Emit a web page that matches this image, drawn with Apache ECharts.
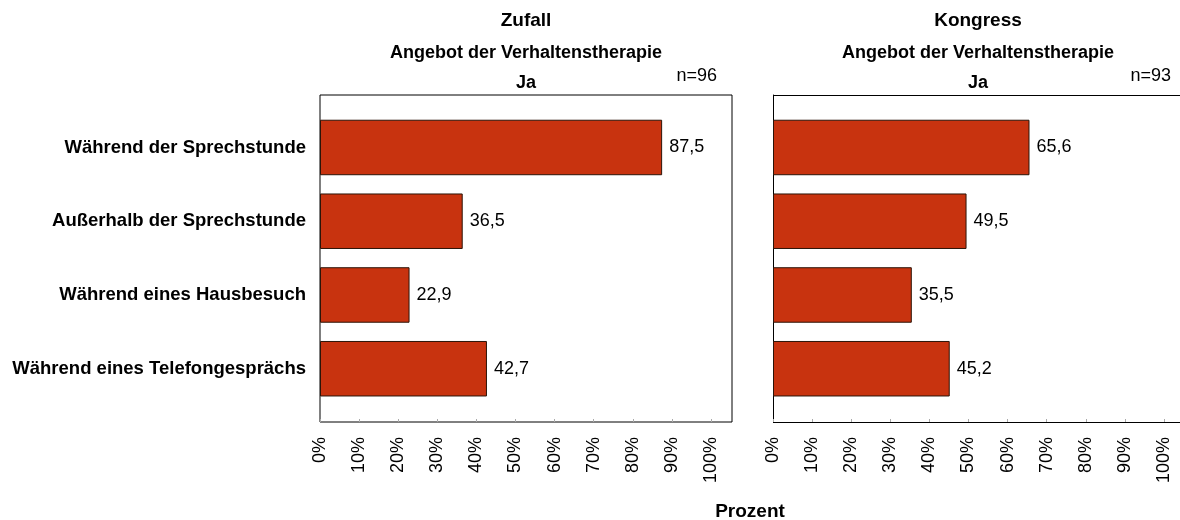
<!DOCTYPE html>
<html>
<head>
<meta charset="utf-8">
<script src="https://cdn.jsdelivr.net/npm/echarts@6/dist/echarts.min.js"></script>
<style>
html,body{margin:0;padding:0;background:#fff;}
#c{width:1180px;height:520px;}
</style>
</head>
<body>
<div id="c"></div>
<script>
const categories = ['Während der Sprechstunde', 'Außerhalb der Sprechstunde', 'Während eines Hausbesuch', 'Während eines Telefongesprächs'];
const zufall = [87.5, 36.5, 22.9, 42.7];
const kongress = [65.6, 49.5, 35.5, 45.2];
const tickValues = [0, 10, 20, 30, 40, 50, 60, 70, 80, 90, 100];
const panelTitles = ['Zufall', 'Kongress'];
const subTitle = 'Angebot der Verhaltenstherapie';
const groupLabel = 'Ja';
const nLabels = ['n=96', 'n=93'];
const axisTitle = 'Prozent';

const FONT = '"Liberation Sans", Arial, Helvetica, sans-serif';
const BAR = '#c8330f';
const PX_PER_UNIT = 3.91;

const panels = [
  {left: 320, width: 412, center: 526, nRight: 717, data: zufall, showCats: true, fullBox: true},
  {left: 773, width: 407, center: 978, nRight: 1171, data: kongress, showCats: false, fullBox: false}
];
const frameTop = 95, frameH = 327;
const barTop = 110.6, barH = 295;

const grid = [], xAxis = [], yAxis = [], series = [], graphic = [];
panels.forEach((p, i) => {
  const xmax = p.width / PX_PER_UNIT;
  grid.push({left: p.left, top: frameTop, width: p.width, height: frameH, show: p.fullBox, borderColor: '#000', borderWidth: 1, backgroundColor: 'transparent'});
  grid.push({left: p.left, top: barTop, width: p.width, height: barH});
  const fi = i * 2, bi = i * 2 + 1;
  xAxis.push({
    gridIndex: fi, type: 'value', min: 0, max: xmax, interval: 10,
    axisLine: {show: false},
    axisTick: {show: true, inside: true, length: 3, lineStyle: {color: '#aaa'}},
    splitLine: {show: false},
    axisLabel: {
      rotate: 90, margin: 15, fontSize: 18, color: '#000', fontFamily: FONT,
      showMaxLabel: false,
      formatter: v => tickValues.indexOf(Math.round(v)) >= 0 && Math.abs(v - Math.round(v)) < 1e-6 ? Math.round(v) + '%' : ''
    }
  });
  yAxis.push({
    gridIndex: fi, type: 'value', min: 0, max: 1, interval: 1,
    axisLine: {show: !p.fullBox, lineStyle: {color: '#000', width: 1}},
    axisTick: {show: false}, axisLabel: {show: false},
    splitLine: {show: !p.fullBox, lineStyle: {color: '#000', width: 1}}
  });
  xAxis.push({gridIndex: bi, type: 'value', min: 0, max: xmax, show: false});
  yAxis.push({
    gridIndex: bi, type: 'category', data: categories, inverse: true,
    axisLine: {show: false},
    axisTick: {show: true, inside: true, length: 3, alignWithLabel: true, lineStyle: {color: '#aaa'}},
    axisLabel: {show: p.showCats, margin: 14, fontSize: 18.5, fontWeight: 'bold', color: '#000', fontFamily: FONT}
  });
  series.push({
    type: 'bar', xAxisIndex: bi, yAxisIndex: bi, data: p.data,
    barWidth: 55.5,
    itemStyle: {color: BAR, borderColor: '#2b1408', borderWidth: 1},
    label: {
      show: true, position: 'right', distance: 7, fontSize: 18, color: '#000', fontFamily: FONT,
      formatter: d => d.value.toFixed(1).replace('.', ',')
    },
    silent: true
  });
  graphic.push({type: 'text', x: p.center, y: 21, style: {text: panelTitles[i], fontSize: 19, fontWeight: 'bold', fontFamily: FONT, fill: '#000', textAlign: 'center', textVerticalAlign: 'middle'}});
  graphic.push({type: 'text', x: p.center, y: 53, style: {text: subTitle, fontSize: 18, fontWeight: 'bold', fontFamily: FONT, fill: '#000', textAlign: 'center', textVerticalAlign: 'middle'}});
  graphic.push({type: 'text', x: p.center, y: 83.5, style: {text: groupLabel, fontSize: 18, fontWeight: 'bold', fontFamily: FONT, fill: '#000', textAlign: 'center', textVerticalAlign: 'middle'}});
  graphic.push({type: 'text', x: p.nRight, y: 76, style: {text: nLabels[i], fontSize: 18, fontFamily: FONT, fill: '#000', textAlign: 'right', textVerticalAlign: 'middle'}});
});
graphic.push({type: 'text', x: 750, y: 511.5, style: {text: axisTitle, fontSize: 19, fontWeight: 'bold', fontFamily: FONT, fill: '#000', textAlign: 'center', textVerticalAlign: 'middle'}});

const chart = echarts.init(document.getElementById('c'), null, {renderer: 'canvas'});
chart.setOption({
  animation: false,
  backgroundColor: '#fff',
  grid, xAxis, yAxis, series, graphic
});
</script>
</body>
</html>
